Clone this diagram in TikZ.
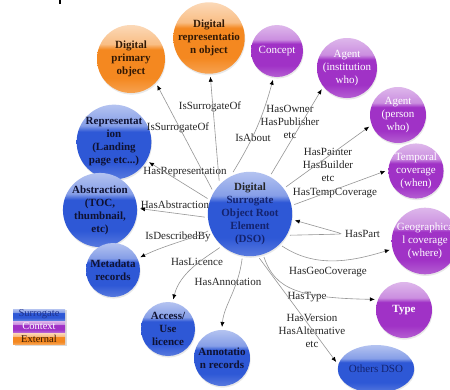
\documentclass[tikz,border=0pt]{standalone}
\usepackage{fontspec}
\setmainfont{Liberation Serif}
\usetikzlibrary{arrows.meta,backgrounds,shapes.geometric,shadows}

\definecolor{orgBase}{RGB}{244,136,32}
\definecolor{purBase}{RGB}{160,50,198}
\definecolor{bluBase}{RGB}{46,88,214}
\definecolor{linkCyan}{RGB}{100,220,232}
\definecolor{edgeGray}{RGB}{150,150,150}
\definecolor{brownTxt}{RGB}{50,25,5}
\definecolor{navyTxt}{RGB}{20,35,110}
\definecolor{darkTxt}{RGB}{15,18,50}
\definecolor{legNavy}{RGB}{30,50,140}

% glossy vertical shadings (path fills the 25bp..75bp band)
\pgfdeclareverticalshading{glossorg}{100bp}{%
  color(0bp)=(orgBase!78!white); color(25bp)=(orgBase!78!white);
  color(36bp)=(orgBase); color(57bp)=(orgBase);
  color(61bp)=(orgBase!55!white); color(75bp)=(orgBase!32!white);
  color(100bp)=(orgBase!32!white)}
\pgfdeclareverticalshading{glosspur}{100bp}{%
  color(0bp)=(purBase!78!white); color(25bp)=(purBase!78!white);
  color(36bp)=(purBase); color(57bp)=(purBase);
  color(61bp)=(purBase!55!white); color(75bp)=(purBase!35!white);
  color(100bp)=(purBase!35!white)}
\pgfdeclareverticalshading{glossblu}{100bp}{%
  color(0bp)=(bluBase!80!white); color(25bp)=(bluBase!80!white);
  color(36bp)=(bluBase); color(57bp)=(bluBase);
  color(61bp)=(bluBase!58!white); color(75bp)=(bluBase!36!white);
  color(100bp)=(bluBase!36!white)}

\tikzset{
  ball/.style={circle, inner sep=0pt, outer sep=3pt, align=center,
    shade, drop shadow={opacity=0.18, shadow xshift=0.6pt, shadow yshift=-1.6pt}},
  orgball/.style={ball, shading=glossorg, text=brownTxt,
    font=\bfseries\fontsize{11}{13}\selectfont},
  purball/.style={ball, shading=glosspur, text=white,
    font=\fontsize{11}{13}\selectfont},
  bluball/.style={ball, shading=glossblu, text=darkTxt,
    font=\bfseries\fontsize{11}{13}\selectfont},
  lbl/.style={inner sep=0pt, align=center, text=black!85,
    font=\fontsize{11}{13.4}\selectfont},
  arr/.style={draw=edgeGray, line width=0.6pt,
    -{Latex[length=5pt,width=4.2pt,black]}},
  cyanline/.style={draw=linkCyan, line width=0.9pt},
  legbox/.style={rectangle, minimum width=52pt, minimum height=11pt, inner sep=0pt,
    font=\fontsize{10.5}{11}\selectfont, shade},
}

\begin{document}
\begin{tikzpicture}[x=1pt, y=-1pt]
\useasboundingbox (0,0) rectangle (450,389);
\clip (0,0) rectangle (450,389);
\fill[white] (0,0) rectangle (450,389);
\fill[black] (59.4,0) rectangle (60.8,4);

% external objects
\node[orgball, minimum size=68pt] (primary) at (131,59) {Digital\\primary\\object};
\node[orgball, minimum size=70pt] (repr) at (209,38) {Digital\\representatio\\n object};

% context
\node[purball, minimum size=52pt] (concept) at (277,51) {Concept};
\node[purball, minimum size=56pt] (agentinst) at (347,68) {Agent\\(institution\\who)};
\node[purball, minimum size=56pt] (agentperson) at (398,115) {Agent\\(person\\who)};
\node[purball, minimum size=54pt] (temporal) at (416,171) {Temporal\\coverage\\(when)};
\node[purball, minimum size=62pt] (geo) at (425,241) {Geographica\\l coverage\\(where)};
\node[purball, minimum size=56pt, font=\bfseries\fontsize{11}{13}\selectfont] (type) at (404,310) {Type};

% surrogate elements
\node[bluball, minimum size=74pt] (dso) at (250,214)
  {\color{black!85}Digital\\\color{navyTxt}Surrogate\\\color{navyTxt}Object Root\\\color{navyTxt}Element\\\color{navyTxt}(DSO)};
\node[bluball, minimum size=66pt] (representation) at (114,142) {Representat\\ion\\(Landing\\page etc...)};
\node[bluball, minimum size=66pt] (abstraction) at (100,210) {Abstraction\\(TOC,\\thumbnail,\\etc)};
\node[bluball, minimum size=54pt] (metadata) at (113,270) {Metadata\\records};
\node[bluball, minimum size=54pt] (access) at (168,329) {Access/\\Use\\licence};
\node[bluball, minimum size=56pt] (annotation) at (222,358) {Annotatio\\n records};
\node[ball, ellipse, shading=glossblu, minimum width=68pt, minimum height=48pt,
  text=navyTxt, font=\fontsize{11}{13}\selectfont] (others) at (376,369) {Others DSO};

% relation labels
\node[lbl] (tIsSurRepr) at (210,107) {IsSurrogateOf};
\node[lbl] (tIsSurPrim) at (178,128) {IsSurrogateOf};
\node[lbl] (tIsAbout) at (253,138) {IsAbout};
\node[lbl] (tOwner) at (290,122) {HasOwner\\HasPublisher\\etc};
\node[lbl] (tPainter) at (328,165) {HasPainter\\HasBuilder\\etc};
\node[lbl] (tTemp) at (335,193) {HasTempCoverage};
\node[lbl, anchor=west] (tPart) at (345,234) {HasPart};
\node[lbl] (tGeo) at (328,272) {HasGeoCoverage};
\node[lbl] (tType) at (307,297) {HasType};
\node[lbl] (tVersion) at (312,331) {HasVersion\\HasAlternative\\etc};
\node[lbl] (tAnnot) at (228,282) {HasAnnotation};
\node[lbl] (tLicence) at (197,262) {HasLicence};
\node[lbl] (tDescr) at (178,237) {IsDescribedBy};
\node[lbl] (tAbstr) at (175,205) {HasAbstraction};
\node[lbl] (tRepr) at (185,172) {HasRepresentation};

% legend
\fill[black!14] (14.5,310) rectangle (66.5,345.5);
\node[legbox, shading=glossblu, text=legNavy] (legSur) at (39,314.5) {Surrogate};
\node[legbox, shading=glosspur, text=white] (legCtx) at (39,326.5) {Context};
\node[legbox, shading=glossorg, text=brownTxt] (legExt) at (39,338.5) {External};

\coordinate (hpturn) at (343,234);

\begin{pgfonlayer}{background}
  % sibling links
  \draw[cyanline] (primary |- 0,41) -- (repr |- 0,41);
  \draw[cyanline] (repr |- 0,42) -- (agentinst |- 0,42);
  \draw[cyanline] (annotation |- 0,363) -- (others |- 0,363);
\end{pgfonlayer}

% relations from the root element
\draw[arr] (dso.147) -- (primary.-45);
\draw[arr] (dso.133) -- (repr.-88);
\draw[arr] (dso.112) to[bend right=8] (concept.-98);
\draw[arr] (dso.62) -- (agentinst.-140);
\draw[arr] (dso.37) -- (agentperson.-158);
\draw[arr] (dso.12) -- (temporal.180);
\draw[arr, rounded corners=4pt] (dso.-28) -- (hpturn) -- (dso.-8);
\draw[arr] (dso.-45) .. controls (315,268) and (350,262) .. (geo.-166);
\draw[arr] (dso.-72) .. controls (275,290) and (300,298) .. (type.160);
\draw[arr] (dso.-78) -- (others.170);
\draw[arr] (dso.-100) .. controls (238,290) and (224,305) .. (annotation.90);
\draw[arr] (dso.-132) .. controls (205,258) and (180,272) .. (access.80);
\draw[arr] (dso.-158) .. controls (195,238) and (165,245) .. (metadata.25);
\draw[arr] (dso.-176) -- (abstraction.2);
\draw[arr] (dso.160) -- (representation.-30);
\end{tikzpicture}
\end{document}
